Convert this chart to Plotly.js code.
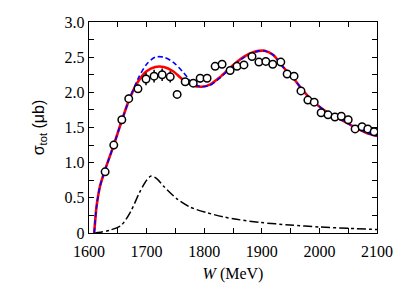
<!DOCTYPE html>
<html>
<head>
<meta charset="utf-8">
<script src="https://cdn.plot.ly/plotly-3.0.1.min.js"></script>
<style>html,body{margin:0;padding:0;background:#fff;}#chart{width:409px;height:292px;}</style>
</head>
<body>
<div id="chart"></div>
<script>
// Data points (W in MeV, sigma_tot in microbarn)
const dataW = [1628,1643,1657,1669,1685,1699,1713,1727,1741,1753,1767,1781,1793,1805,1819,1831,1845,1857,1869,1883,1895,1907,1919,1933,1944,1956,1968,1980,1991,2003,2015,2027,2038,2050,2062,2074,2084,2095];
const dataS = [0.87,1.25,1.61,1.91,2.05,2.19,2.23,2.25,2.22,1.97,2.15,2.13,2.20,2.20,2.37,2.40,2.31,2.37,2.39,2.51,2.43,2.44,2.40,2.43,2.26,2.23,2.02,1.89,1.86,1.71,1.68,1.65,1.66,1.61,1.48,1.51,1.48,1.44];
const dataErr = [0.05,0.06,0.05,0.06,0.06,0.09,0.09,0.09,0.08,0.05,0.05,0.05,0.06,0.05,0.05,0.05,0.04,0.04,0.04,0.04,0.04,0.04,0.04,0.04,0.04,0.04,0.04,0.04,0.04,0.04,0.04,0.04,0.04,0.04,0.04,0.04,0.04,0.04];

// Full model (red solid)
const fullW = [1609,1610.5,1613,1619,1628,1643,1657,1670,1685,1700,1715,1730,1746,1763,1780,1795,1810,1825,1840,1855,1870,1885,1895,1905,1920,1937,1955,1972,1992,2015,2040,2060,2080,2100];
const fullS = [0,0.15,0.37,0.66,0.90,1.25,1.60,1.90,2.15,2.30,2.36,2.36,2.30,2.18,2.10,2.08,2.11,2.20,2.31,2.42,2.51,2.57,2.59,2.59,2.53,2.36,2.20,2.02,1.85,1.71,1.60,1.51,1.43,1.38];

// Alternative model (blue dashed)
const altW = [1609,1610.5,1613,1619,1628,1643,1657,1670,1685,1700,1715,1730,1746,1763,1780,1795,1810,1825,1840,1855,1870,1885,1895,1905,1920,1937,1955,1972,1992,2015,2040,2060,2080,2100];
const altS = [0,0.15,0.37,0.66,0.90,1.25,1.60,1.90,2.19,2.40,2.50,2.50,2.43,2.29,2.13,2.08,2.10,2.19,2.30,2.41,2.50,2.56,2.59,2.59,2.53,2.36,2.20,2.02,1.85,1.71,1.60,1.51,1.43,1.38];

// Single contribution (black dash-dot)
const partW = [1609,1620,1636,1656,1672,1688,1700,1708,1718,1730,1752,1775,1804,1833,1856,1897,1949,2001,2053,2100];
const partS = [0,0.01,0.04,0.11,0.30,0.58,0.75,0.81,0.77,0.66,0.49,0.37,0.29,0.23,0.195,0.15,0.114,0.085,0.065,0.05];

const yTickVals = [0,0.5,1,1.5,2,2.5,3];
const yTickText = ['0','0.5','1.0','1.5','2.0','2.5','3.0'];
const xTickVals = [1600,1700,1800,1900,2000,2100];

const traces = [
  {x: partW, y: partS, mode:'lines', line:{color:'#000', width:1.5, dash:'dashdot', shape:'spline', smoothing:0.8}, hoverinfo:'skip'},
  {x: fullW, y: fullS, mode:'lines', line:{color:'#ff0000', width:2.6, shape:'spline', smoothing:0.8}, hoverinfo:'skip'},
  {x: altW, y: altS, mode:'lines', line:{color:'#0000ff', width:1.6, dash:'5px,3px', shape:'spline', smoothing:0.8}, hoverinfo:'skip'},
  {x: dataW, y: dataS, mode:'markers', error_y:{type:'data', array:dataErr, color:'#000', thickness:1.5, width:0},
   marker:{symbol:'circle', size:7.5, color:'#fff', line:{color:'#000', width:1.5}}, hoverinfo:'skip'}
];

const axisCommon = {
  showline:true, mirror:'ticks', linecolor:'#000', linewidth:1.2,
  ticks:'inside', ticklen:5, tickwidth:1, tickcolor:'#000',
  showgrid:false, zeroline:false,
  tickfont:{family:'Liberation Serif, serif', size:16, color:'#000'}
};

const layout = {
  width:409, height:292,
  margin:{l:89, r:32, t:22, b:59},
  paper_bgcolor:'#fff', plot_bgcolor:'#fff',
  showlegend:false,
  xaxis: Object.assign({}, axisCommon, {
    range:[1600,2100], tickvals:xTickVals, ticktext:xTickVals.map(String),
    ticklabelstandoff:4,
    minor:{dtick:50, ticks:'inside', ticklen:5, tickcolor:'#000', tickwidth:1},
    title:{text:'<i>W</i> (MeV)', font:{family:'Liberation Serif, serif', size:16, color:'#000'}, standoff:8}
  }),
  yaxis: Object.assign({}, axisCommon, {
    range:[0,3], tickvals:yTickVals, ticktext:yTickText,
    minor:{dtick:0.25, ticks:'inside', ticklen:5, tickcolor:'#000', tickwidth:1},
    title:{text:'σ<sub>tot</sub> (μb)', font:{family:'Liberation Sans, Arial, sans-serif', size:16, color:'#000'}, standoff:16}
  })
};

Plotly.newPlot('chart', traces, layout, {staticPlot:true, displayModeBar:false});
</script>
</body>
</html>
